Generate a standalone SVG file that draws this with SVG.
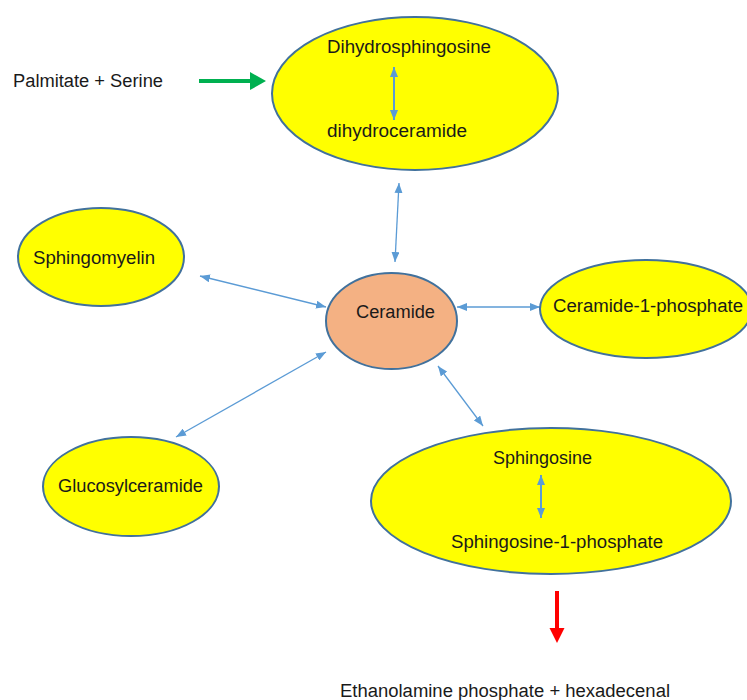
<svg xmlns="http://www.w3.org/2000/svg" width="747" height="700" viewBox="0 0 747 700">
  <defs>
    <marker id="ah" viewBox="0 0 10 8" refX="10" refY="4" markerWidth="10" markerHeight="8" markerUnits="userSpaceOnUse" orient="auto-start-reverse">
      <path d="M0,0 L10,4 L0,8 z" fill="#5B9BD5"/>
    </marker>
  </defs>
  <style>
    .node { fill: #FFFF00; stroke: #41719C; stroke-width: 2; }
    .cer { fill: #F4B183; stroke: #41719C; stroke-width: 2; }
    .lbl { font-family: "Liberation Sans", Arial, sans-serif; font-size: 18px; fill: #1a1a1a; }
    .conn { stroke: #5B9BD5; stroke-width: 1.3; fill: none; marker-start: url(#ah); marker-end: url(#ah); }
    .inner { stroke: #5B9BD5; stroke-width: 2; fill: none; marker-start: url(#ah); marker-end: url(#ah); }
  </style>
  <rect width="747" height="700" fill="#ffffff"/>

  <g id="connectors">
    <line class="conn" x1="399" y1="183" x2="395" y2="262"/>
    <line class="conn" x1="200" y1="276" x2="326" y2="307"/>
    <line class="conn" x1="457" y1="307" x2="540" y2="307"/>
    <line class="conn" x1="176" y1="437" x2="326" y2="352"/>
    <line class="conn" x1="438" y1="366" x2="483" y2="426"/>
    <line stroke="#00B050" stroke-width="4" x1="199" y1="81" x2="251" y2="81"/>
    <polygon points="250,72 266,81 250,90" fill="#00B050"/>
    <line stroke="#FF0000" stroke-width="4" x1="557" y1="591" x2="557" y2="629"/>
    <polygon points="549.5,628 564.5,628 557,643" fill="#FF0000"/>
  </g>

  <g id="palmitate">
    <text class="lbl" x="13" y="87" textLength="150" lengthAdjust="spacingAndGlyphs">Palmitate + Serine</text>
  </g>

  <g id="dihydro">
    <ellipse class="node" cx="415" cy="93.5" rx="143" ry="76.5"/>
    <text class="lbl" x="327" y="53" textLength="164" lengthAdjust="spacingAndGlyphs">Dihydrosphingosine</text>
    <line class="inner" x1="394" y1="67" x2="394" y2="120"/>
    <text class="lbl" x="327" y="137" textLength="140" lengthAdjust="spacingAndGlyphs">dihydroceramide</text>
  </g>

  <g id="sphingomyelin">
    <ellipse class="node" cx="101" cy="257" rx="83" ry="49"/>
    <text class="lbl" x="33" y="264" textLength="122" lengthAdjust="spacingAndGlyphs">Sphingomyelin</text>
  </g>

  <g id="ceramide">
    <ellipse class="cer" cx="391.5" cy="321" rx="65.5" ry="48"/>
    <text class="lbl" x="356" y="318" textLength="79" lengthAdjust="spacingAndGlyphs">Ceramide</text>
  </g>

  <g id="c1p">
    <ellipse class="node" cx="646" cy="309" rx="106" ry="49"/>
    <text class="lbl" x="553" y="312" textLength="190" lengthAdjust="spacingAndGlyphs">Ceramide-1-phosphate</text>
  </g>

  <g id="glucosylceramide">
    <ellipse class="node" cx="131" cy="486.5" rx="88" ry="49.5"/>
    <text class="lbl" x="58" y="492" textLength="145" lengthAdjust="spacingAndGlyphs">Glucosylceramide</text>
  </g>

  <g id="sphingosine">
    <ellipse class="node" cx="551" cy="501" rx="180" ry="73"/>
    <text class="lbl" x="493" y="464" textLength="99" lengthAdjust="spacingAndGlyphs">Sphingosine</text>
    <line class="inner" x1="541" y1="475" x2="541" y2="518"/>
    <text class="lbl" x="451" y="548" textLength="212" lengthAdjust="spacingAndGlyphs">Sphingosine-1-phosphate</text>
  </g>

  <g id="products">
    <text class="lbl" x="340" y="697" textLength="330" lengthAdjust="spacingAndGlyphs">Ethanolamine phosphate + hexadecenal</text>
  </g>
</svg>
